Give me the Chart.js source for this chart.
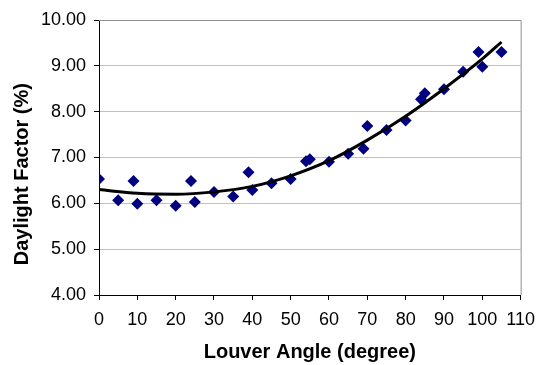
<!DOCTYPE html>
<html>
<head>
<meta charset="utf-8">
<script src="https://cdn.jsdelivr.net/npm/chart.js@4"></script>
<style>
    body { margin: 0; background: #ffffff; }
</style>
</head>
<body>
<canvas id="louverChart" width="544" height="365"></canvas>
<script>
const angles = [0, 5, 9, 10, 15, 20, 24, 25, 30, 35, 39, 40, 45, 50, 54, 55, 60, 65, 69, 70, 75, 80, 84, 85, 90, 95, 99, 100, 105]
const factors = [6.53, 6.07, 6.49, 5.99, 6.07, 5.95, 6.49, 6.03, 6.25, 6.15, 6.68, 6.29, 6.44, 6.53, 6.92, 6.96, 6.91, 7.08, 7.19, 7.69, 7.60, 7.81, 8.27, 8.40, 8.49, 8.87, 9.30, 8.98, 9.30]

// trend line
const trendAngles = [0, 10, 20, 30, 40, 50, 60, 70, 80, 90, 100, 105]
const trendFactors = [6.30, 6.22, 6.20, 6.25, 6.37, 6.60, 6.93, 7.38, 7.90, 8.50, 9.15, 9.52]

const xTicks = [0, 10, 20, 30, 40, 50, 60, 70, 80, 90, 100, 110]
const yTicks = [4, 5, 6, 7, 8, 9, 10]

const fontFamily = '"Liberation Sans", Arial, sans-serif'

const plotBorder = {
    id: 'plotBorder',
    beforeDatasetsDraw(chart) {
        const { ctx, chartArea } = chart
        ctx.save()
        ctx.strokeStyle = '#909090'
        ctx.lineWidth = 1
        ctx.beginPath()
        ctx.moveTo(chartArea.left, chartArea.top + 0.5)
        ctx.lineTo(chartArea.right + 0.5, chartArea.top + 0.5)
        ctx.lineTo(chartArea.right + 0.5, chartArea.bottom)
        ctx.stroke()
        ctx.restore()
    }
}

const ctx = document.getElementById('louverChart').getContext('2d')
const louverChart = new Chart(ctx, {
    type: 'scatter',
    data: {
        datasets: [{
            label: 'Daylight Factor',
            data: angles.map((a, i) => ({ x: a, y: factors[i] })),
            pointStyle: 'rectRot',
            pointRadius: 6,
            pointHoverRadius: 6,
            backgroundColor: '#000080',
            borderColor: '#000080',
            borderWidth: 0,
            order: 2
        },
        {
            label: 'Trend',
            type: 'line',
            data: trendAngles.map((a, i) => ({ x: a, y: trendFactors[i] })),
            borderColor: '#000000',
            borderWidth: 3,
            pointRadius: 0,
            fill: false,
            cubicInterpolationMode: 'monotone',
            order: 1
        }]
    },
    options: {
        responsive: false,
        animation: false,
        devicePixelRatio: 1,
        layout: {
            padding: { left: 0, top: 20, right: 21, bottom: 0 }
        },
        plugins: {
            legend: { display: false },
            tooltip: { enabled: false }
        },
        scales: {
            x: {
                type: 'linear',
                min: 0,
                max: 110,
                afterFit: (scale) => { scale.height = 70 },
                afterBuildTicks: (scale) => { scale.ticks = xTicks.map(v => ({ value: v })) },
                ticks: {
                    color: '#000000',
                    padding: 9,
                    maxRotation: 0,
                    font: { family: fontFamily, size: 18 }
                },
                grid: {
                    drawOnChartArea: false,
                    tickLength: 5,
                    tickColor: '#000000'
                },
                border: { color: '#000000', width: 1 },
                title: {
                    display: true,
                    text: 'Louver Angle (degree)',
                    color: '#000000',
                    padding: { top: 0, bottom: 1 },
                    font: { family: fontFamily, size: 20, weight: 'bold' }
                }
            },
            y: {
                min: 4,
                max: 10,
                afterFit: (scale) => { scale.width = 99 },
                afterBuildTicks: (scale) => { scale.ticks = yTicks.map(v => ({ value: v })) },
                ticks: {
                    color: '#000000',
                    padding: 8,
                    callback: (v) => Number(v).toFixed(2),
                    font: { family: fontFamily, size: 18 }
                },
                grid: {
                    color: '#c0c0c0',
                    tickLength: 5,
                    tickColor: '#000000'
                },
                border: { color: '#000000', width: 1 },
                title: {
                    display: true,
                    text: 'Daylight Factor (%)      ',
                    color: '#000000',
                    padding: { top: 10, bottom: 0 },
                    font: { family: fontFamily, size: 20, weight: 'bold' }
                }
            }
        }
    },
    plugins: [plotBorder]
})
</script>
</body>
</html>
